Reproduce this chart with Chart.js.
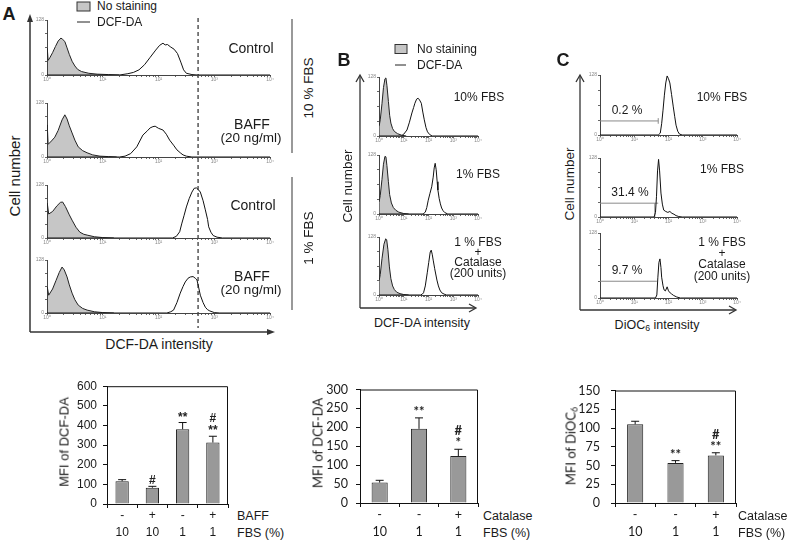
<!DOCTYPE html>
<html>
<head>
<meta charset="utf-8">
<script src="https://cdn.jsdelivr.net/npm/chart.js@4.4.1/dist/chart.umd.min.js"></script>
<style>
  body { margin: 0; background: #fff; }
  #fig { position: relative; width: 790px; height: 543px; overflow: hidden; background: #fff;
         font-family: Arial, "Liberation Sans", sans-serif; color: #1a1a1a; }
  .t { position: absolute; white-space: nowrap; line-height: 1; transform: translate(-50%, -50%); }
  .t.l { transform: translate(0, -50%); }
  .t.r { transform: translate(-50%, -50%) rotate(-90deg); }
  .t.b { font-weight: bold; }
  .t sub { font-size: 70%; vertical-align: -0.25em; line-height: 0; }
  #deco { position: absolute; left: 0; top: 0; }
</style>
</head>
<body>
<div id="fig">
  <svg id="deco" width="790" height="543">
    <g stroke="#333" stroke-width="1.5" fill="#333">
      <!-- A: big axes -->
      <line x1="30" y1="332" x2="30" y2="21" />
      <polygon points="30,14 27,22 33,22" stroke="none" />
      <line x1="30" y1="332" x2="268" y2="332" />
      <polygon points="275,332 267,329 267,335" stroke="none" />
    </g>
    <g stroke="#333" stroke-width="1.3" fill="none">
      <!-- B -->
      <line x1="360" y1="308" x2="360" y2="76" />
      <polyline points="356,82 360,75 364,82" />
      <line x1="360" y1="308" x2="475" y2="308" />
      <polyline points="469,304 476,308 469,312" />
      <!-- C -->
      <line x1="580" y1="310" x2="580" y2="76" />
      <polyline points="576,82 580,75 584,82" />
      <line x1="580" y1="310" x2="735" y2="310" />
      <polyline points="729,306 736,310 729,314" />
    </g>
    <!-- FBS brackets -->
    <g stroke="#777" stroke-width="1.5">
      <line x1="292" y1="19" x2="292" y2="153" />
      <line x1="292" y1="177" x2="292" y2="310" />
    </g>
    <!-- legends -->
    <rect x="77" y="2" width="13" height="9" fill="#c6c6c6" stroke="#333" />
    <line x1="77" y1="22" x2="90" y2="22" stroke="#222" />
    <rect x="395" y="44.5" width="12" height="9" fill="#c6c6c6" stroke="#333" />
    <line x1="395" y1="65" x2="406" y2="65" stroke="#222" />
    <line id="marker" x1="0" y1="18" x2="0" y2="328" stroke="#555" stroke-width="1.5" stroke-dasharray="4,3" />
  </svg>
</div>
<script>
// ── Histogram data: [log10 intensity, cell count] ─────────────
const DECADES = [0, 1, 2, 3, 4];
const SUP = ["\u2070", "\u00b9", "\u00b2", "\u00b3", "\u2074"];

// A (DCF-DA)
const A_CTRL10_GREY = [[0,0],[0,30],[0.01,62],[0.02,34],[0.05,40],[0.1,52],[0.15,66],[0.2,79],[0.25,86],[0.28,83],[0.32,78],[0.36,63],[0.4,48],[0.45,32],[0.5,21],[0.55,13],[0.62,8],[0.75,4],[0.9,2],[1.1,1],[1.3,0]];
const A_CTRL10_DCF = [[0,0],[1.3,0],[1.45,3],[1.55,6],[1.65,12],[1.75,24],[1.85,41],[1.95,58],[2.02,69],[2.08,74],[2.12,70],[2.16,71],[2.22,65],[2.28,60],[2.34,50],[2.4,30],[2.45,12],[2.5,4],[2.6,1],[2.7,0],[4,0]];
const A_BAFF10_GREY = [[0,0],[0,28],[0.01,76],[0.02,30],[0.08,38],[0.14,47],[0.2,63],[0.27,88],[0.32,100],[0.36,90],[0.4,74],[0.45,57],[0.5,40],[0.56,24],[0.64,15],[0.72,10],[0.82,5],[0.95,2],[1.1,1],[1.25,0]];
const A_BAFF10_DCF = [[0,0],[1.3,0],[1.4,2],[1.5,8],[1.61,24],[1.72,52],[1.8,62],[1.85,69],[1.9,72],[1.94,73],[2.0,68],[2.08,64],[2.14,54],[2.2,40],[2.27,28],[2.33,17],[2.4,9],[2.44,5],[2.5,2],[2.6,0],[4,0]];
const A_CTRL1_GREY = [[0,0],[0,40],[0.01,84],[0.03,58],[0.1,64],[0.18,78],[0.24,86],[0.28,87],[0.33,76],[0.4,56],[0.45,43],[0.52,26],[0.59,14],[0.66,9],[0.72,7],[0.85,3],[1.0,1],[1.2,0]];
const A_CTRL1_DCF = [[0,0],[2.25,0],[2.32,4],[2.38,15],[2.42,36],[2.46,55],[2.5,75],[2.55,95],[2.6,111],[2.64,120],[2.68,121],[2.72,116],[2.75,111],[2.8,90],[2.84,68],[2.88,45],[2.9,27],[2.94,14],[2.98,6],[3.05,2],[3.15,0],[4,0]];
const A_BAFF1_GREY = [[0,0],[0,38],[0.01,63],[0.03,43],[0.1,58],[0.16,78],[0.22,98],[0.27,111],[0.31,104],[0.36,87],[0.4,68],[0.45,48],[0.5,32],[0.56,19],[0.64,11],[0.72,7],[0.85,3],[1.0,1],[1.2,0]];
const A_BAFF1_DCF = [[0,0],[2.15,0],[2.22,3],[2.27,7],[2.33,25],[2.39,48],[2.44,64],[2.48,75],[2.53,84],[2.57,87],[2.62,88],[2.66,84],[2.69,80],[2.72,62],[2.75,43],[2.8,25],[2.84,14],[2.88,8],[2.92,5],[3.0,1],[3.1,0],[4,0]];
const A_MARKER = 2.71;

// B (DCF-DA)
const B_FBS10_GREY = [[0,0],[0,20],[0.05,35],[0.12,70],[0.18,105],[0.24,124],[0.28,126],[0.32,110],[0.38,75],[0.43,45],[0.48,28],[0.55,16],[0.62,10],[0.75,5],[0.9,2],[1.1,0]];
const B_FBS10_DCF = [[0,0],[0.9,0],[1.0,4],[1.13,13],[1.23,30],[1.33,50],[1.4,62],[1.45,71],[1.52,80],[1.58,82],[1.64,78],[1.71,71],[1.77,52],[1.83,35],[1.9,18],[1.96,9],[2.05,3],[2.15,0],[4,0]];
const B_FBS1_GREY = [[0,0],[0,25],[0.05,40],[0.12,75],[0.18,108],[0.24,125],[0.28,124],[0.32,105],[0.38,70],[0.43,42],[0.5,24],[0.58,14],[0.68,8],[0.8,4],[1.0,1],[1.2,0]];
const B_FBS1_DCF = [[0,0],[1.78,0],[1.87,4],[1.93,14],[1.99,30],[2.06,45],[2.13,59],[2.19,80],[2.23,100],[2.27,110],[2.31,96],[2.35,70],[2.38,52],[2.43,34],[2.48,22],[2.53,13],[2.59,7],[2.66,3],[2.78,0],[4,0]];
const B_CAT_GREY = [[0,0],[0,30],[0.05,45],[0.12,80],[0.2,112],[0.27,124],[0.31,122],[0.36,100],[0.42,62],[0.48,36],[0.55,20],[0.62,12],[0.72,6],[0.85,3],[1.0,1],[1.2,0]];
const B_CAT_DCF = [[0,0],[1.68,0],[1.75,2],[1.8,5],[1.87,20],[1.95,49],[2.01,72],[2.07,95],[2.11,99],[2.15,90],[2.19,77],[2.25,58],[2.34,33],[2.4,20],[2.46,11],[2.53,5],[2.63,2],[2.73,0],[4,0]];

// C (DiOC6) with low-potential gates
const C_FBS10_DIOC = [[0,0],[1.7,0],[1.76,4],[1.8,24],[1.84,53],[1.88,85],[1.92,111],[1.96,126],[2.0,120],[2.04,111],[2.09,86],[2.14,60],[2.18,40],[2.22,21],[2.27,8],[2.32,2],[2.4,0],[4,0]];
const C_FBS10_GATE = [[0,30],[1.7,30]];
const C_FBS10_GATE_END = [[1.7,24],[1.7,36]];
const C_FBS1_DIOC = [[0,0],[1.58,0],[1.62,10],[1.65,45],[1.68,100],[1.71,125],[1.74,100],[1.78,52],[1.82,28],[1.86,15],[1.92,12],[1.98,10],[2.04,12],[2.1,8],[2.16,6],[2.22,3],[2.3,1],[2.4,0],[4,0]];
const C_FBS1_GATE = [[0,30],[1.7,30]];
const C_FBS1_GATE_END = [[1.6,0],[1.6,30]];
const C_CAT_DIOC = [[0,0],[1.62,0],[1.66,6],[1.69,41],[1.72,70],[1.75,77],[1.78,60],[1.8,41],[1.84,24],[1.87,16],[1.91,14],[1.96,22],[2.0,14],[2.05,10],[2.09,8],[2.15,5],[2.24,2],[2.35,0],[4,0]];
const C_CAT_GATE = [[0,33],[1.66,33]];
const C_GATE_PCT = ["0.2 %", "31.4 %", "9.7 %"];

// ── Bar chart data ───────────────────────────────────────
const A_BAR_CATS = [["-", "10"], ["+", "10"], ["-", "1"], ["+", "1"]];
const A_BAR_MFI = [116, 83, 381, 313];
const A_BAR_SEM = [8, 7, 34, 32];
const A_BAR_SIG = [[], ["#"], ["**"], ["**", "#"]];

const B_BAR_CATS = [["-", "10"], ["-", "1"], ["+", "1"]];
const B_BAR_MFI = [54, 196, 124];
const B_BAR_SEM = [6, 29, 18];
const B_BAR_SIG = [[], ["**"], ["*", "#"]];

const C_BAR_CATS = [["-", "10"], ["-", "1"], ["+", "1"]];
const C_BAR_MFI = [105, 53.5, 63.5];
const C_BAR_SEM = [4, 3, 3.5];
const C_BAR_SIG = [[], ["**"], ["**", "#"]];

// ── helpers ──────────────────────────────────────────────
const fig = document.getElementById("fig");
const ARIAL = 'Arial, "Liberation Sans", sans-serif';
const CAL = 'Lato, "Open Sans", sans-serif';

function addCanvas(left, top, w, h) {
  const c = document.createElement("canvas");
  c.width = w;
  c.height = h;
  c.style.cssText = `position:absolute;left:${left}px;top:${top}px;width:${w}px;height:${h}px`;
  fig.appendChild(c);
  return c;
}
function txt(html, x, y, size, cls, family) {
  const d = document.createElement("div");
  d.className = "t " + (cls || "");
  d.innerHTML = html;
  d.style.left = x + "px";
  d.style.top = y + "px";
  d.style.fontSize = size + "px";
  if (family) d.style.fontFamily = family;
  fig.appendChild(d);
  return d;
}

const greyDs = (d) => ({ data: d, fill: "origin", backgroundColor: "#c6c6c6", borderColor: "#222", borderWidth: 1, order: 2 });
const lineDs = (d) => ({ data: d, fill: false, borderColor: "#111", borderWidth: 1, order: 1 });
const gateDs = (d) => ({ data: d, fill: false, borderColor: "#8a8a8a", borderWidth: 1, order: 3 });

// log-axis ticks: decades plus minor 2..9
const LOG_TICKS = [];
DECADES.forEach((d) => {
  LOG_TICKS.push(d);
  if (d < 4) for (let m = 2; m < 10; m++) LOG_TICKS.push(d + Math.log10(m));
});

const YW = 12, XH = 9, PT = 4, PR = 8;
function histo(box, sets) {
  const [x0, y0, x1, y1] = box;
  const cv = addCanvas(x0 - YW, y0 - PT, x1 - x0 + YW + PR, y1 - y0 + PT + XH);
  const ch = new Chart(cv, {
    type: "line",
    data: { datasets: sets },
    options: {
      responsive: false,
      animation: false,
      events: [],
      layout: { padding: { top: PT, right: PR } },
      plugins: { legend: { display: false }, tooltip: { enabled: false } },
      elements: { point: { radius: 0 }, line: { tension: 0 } },
      scales: {
        x: {
          type: "linear", min: 0, max: 4,
          afterFit: (s) => { s.height = XH; },
          afterBuildTicks: (s) => { s.ticks = LOG_TICKS.map((v) => ({ value: v })); },
          ticks: {
            autoSkip: false, maxRotation: 0, padding: 0, color: "#888", font: { size: 5 },
            callback: (v) => (Number.isInteger(v) ? "10" + SUP[v] : ""),
          },
          grid: { drawOnChartArea: false, tickLength: 2, color: "#666" },
          border: { color: "#444" },
        },
        y: {
          min: 0, max: 128,
          afterFit: (s) => { s.width = YW; },
          ticks: { stepSize: 32, padding: 1, color: "#888", font: { size: 5 }, callback: (v) => (v === 0 || v === 128 ? v : "") },
          grid: { drawOnChartArea: false, tickLength: 2, color: "#666" },
          border: { color: "#444" },
        },
      },
    },
  });
  ch.$left = x0 - YW;
  return ch;
}

// error bars + significance marks
const errPlugin = {
  id: "err",
  afterDatasetsDraw(chart, args, o) {
    const { ctx } = chart;
    const y = chart.scales.y;
    const ds = chart.data.datasets[0].data;
    chart.getDatasetMeta(0).data.forEach((bar, i) => {
      const top = y.getPixelForValue(ds[i] + o.sem[i]);
      ctx.save();
      ctx.strokeStyle = "#111";
      ctx.lineWidth = 1;
      ctx.beginPath();
      ctx.moveTo(bar.x, bar.y);
      ctx.lineTo(bar.x, top);
      ctx.moveTo(bar.x - 4, top);
      ctx.lineTo(bar.x + 4, top);
      ctx.stroke();
      ctx.fillStyle = "#222";
      ctx.font = o.font;
      ctx.textAlign = "center";
      ctx.textBaseline = "alphabetic";
      o.sig[i].forEach((s, k) => ctx.fillText(s, bar.x, top - 2 - 12 * k));
      ctx.restore();
    });
  },
};
const framePlugin = {
  id: "frame",
  afterDraw(chart) {
    const { ctx, chartArea: a } = chart;
    ctx.save();
    ctx.strokeStyle = "#111";
    ctx.lineWidth = 1;
    ctx.beginPath();
    ctx.moveTo(a.left, a.top + 0.5);
    ctx.lineTo(a.right - 0.5, a.top + 0.5);
    ctx.lineTo(a.right - 0.5, a.bottom);
    ctx.stroke();
    ctx.restore();
  },
};

function barChart(box, cats, mfi, sem, sig, cfg) {
  const [x0, y0, x1, y1] = box;
  const BW = 42, BH = 42, TP = 8, RP = 4;
  const cv = addCanvas(x0 - BW, y0 - TP, x1 - x0 + BW + RP, y1 - y0 + TP + BH);
  const font = { family: cfg.family, size: cfg.size, lineHeight: 1.35 };
  return new Chart(cv, {
    type: "bar",
    data: {
      labels: cats,
      datasets: [{ data: mfi, backgroundColor: "#999", borderColor: "#222", borderWidth: 1,
                   barPercentage: cfg.bar, categoryPercentage: 1 }],
    },
    options: {
      responsive: false,
      animation: false,
      events: [],
      layout: { padding: { top: TP, right: RP } },
      plugins: {
        legend: { display: false }, tooltip: { enabled: false },
        err: { sem, sig, font: cfg.sigFont },
      },
      scales: {
        x: {
          afterFit: (s) => { s.height = BH; },
          ticks: { padding: 0, color: "#1a1a1a", font, maxRotation: 0 },
          grid: { offset: true, drawOnChartArea: false, tickLength: 4, color: "#111" },
          border: { color: "#111" },
        },
        y: {
          min: 0, max: cfg.max,
          afterFit: (s) => { s.width = BW; },
          ticks: { stepSize: cfg.step, padding: cfg.pad, color: "#1a1a1a", font: { family: cfg.family, size: cfg.size } },
          grid: { drawOnChartArea: false, tickLength: 4, color: "#111" },
          border: { color: "#111" },
        },
      },
    },
    plugins: [errPlugin, framePlugin],
  });
}

Chart.defaults.font.family = ARIAL;

// ── Panel A histograms ───────────────────────────────────
const aTop = histo([47, 20, 270, 75], [greyDs(A_CTRL10_GREY), lineDs(A_CTRL10_DCF)]);
histo([47, 103, 270, 157], [greyDs(A_BAFF10_GREY), lineDs(A_BAFF10_DCF)]);
histo([47, 185, 270, 238], [greyDs(A_CTRL1_GREY), lineDs(A_CTRL1_DCF)]);
histo([47, 260, 270, 313], [greyDs(A_BAFF1_GREY), lineDs(A_BAFF1_DCF)]);
const mx = aTop.$left + aTop.scales.x.getPixelForValue(A_MARKER);
const marker = document.getElementById("marker");
marker.setAttribute("x1", mx);
marker.setAttribute("x2", mx);

// ── Panel B histograms ───────────────────────────────────
histo([379, 77, 478, 136], [greyDs(B_FBS10_GREY), lineDs(B_FBS10_DCF)]);
histo([379, 155, 478, 214], [greyDs(B_FBS1_GREY), lineDs(B_FBS1_DCF)]);
histo([379, 237, 478, 295], [greyDs(B_CAT_GREY), lineDs(B_CAT_DCF)]);

// ── Panel C histograms ───────────────────────────────────
histo([600, 75, 737, 135], [lineDs(C_FBS10_DIOC), gateDs(C_FBS10_GATE), gateDs(C_FBS10_GATE_END)]);
histo([600, 158, 737, 217], [lineDs(C_FBS1_DIOC), gateDs(C_FBS1_GATE), gateDs(C_FBS1_GATE_END)]);
histo([600, 233, 737, 298], [lineDs(C_CAT_DIOC), gateDs(C_CAT_GATE)]);

// ── Bar charts ───────────────────────────────────────────
barChart([107, 381, 228, 504], A_BAR_CATS, A_BAR_MFI, A_BAR_SEM, A_BAR_SIG,
  { family: ARIAL, size: 12, max: 600, step: 100, pad: 6, bar: 0.44, sigFont: "bold 12px " + ARIAL });
barChart([360, 382, 478, 503], B_BAR_CATS, B_BAR_MFI, B_BAR_SEM, B_BAR_SIG,
  { family: CAL, size: 12.5, max: 300, step: 50, pad: 8, bar: 0.41, sigFont: "bold 13px " + CAL });
barChart([615, 380, 736, 503], C_BAR_CATS, C_BAR_MFI, C_BAR_SEM, C_BAR_SIG,
  { family: CAL, size: 12.5, max: 150, step: 25, pad: 11, bar: 0.4, sigFont: "bold 13px " + CAL });

// ── Text ─────────────────────────────────────────────────
// panel A
txt("A", 9, 14, 18, "b");
txt("No staining", 97, 6, 12, "l");
txt("DCF-DA", 97, 22, 12, "l");
txt("Cell number", 14, 176, 15, "r");
txt("DCF-DA intensity", 159, 344, 14);
txt("Control", 251, 48, 14);
txt("BAFF", 252, 124, 14);
txt("(20 ng/ml)", 251, 138, 13.5);
txt("Control", 253, 205, 14);
txt("BAFF", 252, 276, 14);
txt("(20 ng/ml)", 251, 290, 13.5);
txt("10 % FBS", 309, 88, 13.5, "r");
txt("1 % FBS", 309, 238, 13.5, "r");

// panel B
txt("B", 344, 60, 18, "b");
txt("No staining", 417, 49, 12, "l");
txt("DCF-DA", 417, 65, 12, "l");
txt("Cell number", 348, 186, 13.5, "r");
txt("DCF-DA intensity", 422, 323, 12.5);
txt("10% FBS", 479, 97, 12);
txt("1% FBS", 478, 174, 12);
txt("1 % FBS", 478, 242, 12);
txt("+", 478, 252, 12);
txt("Catalase", 478, 262, 12);
txt("(200 units)", 478, 273, 12);

// panel C
txt("C", 563, 60, 18, "b");
txt("Cell number", 570, 184, 13.5, "r");
txt("DiOC<sub>6</sub> intensity", 657, 325, 12.5);
txt("10% FBS", 722, 97, 12);
txt("1% FBS", 722, 169, 12);
txt("1 % FBS", 722, 242, 12);
txt("+", 722, 253, 12);
txt("Catalase", 722, 264, 12);
txt("(200 units)", 722, 276, 12);
txt(C_GATE_PCT[0], 627, 110, 12);
txt(C_GATE_PCT[1], 630, 192, 12);
txt(C_GATE_PCT[2], 627, 270, 12);

// bar chart titles and row labels
txt("MFI of DCF-DA", 64, 442, 13, "r");
txt("BAFF", 237, 516, 12.5, "l");
txt("FBS (%)", 237, 533, 12.5, "l");
txt("MFI of DCF-DA", 318, 443, 13, "r", CAL);
txt("Catalase", 483, 516, 12.5, "l");
txt("FBS (%)", 483, 533, 12.5, "l");
txt("MFI of DiOC<sub>6</sub>", 571, 446, 13, "r", CAL);
txt("Catalase", 738, 516, 12.5, "l");
txt("FBS (%)", 738, 533, 12.5, "l");
</script>
</body>
</html>
